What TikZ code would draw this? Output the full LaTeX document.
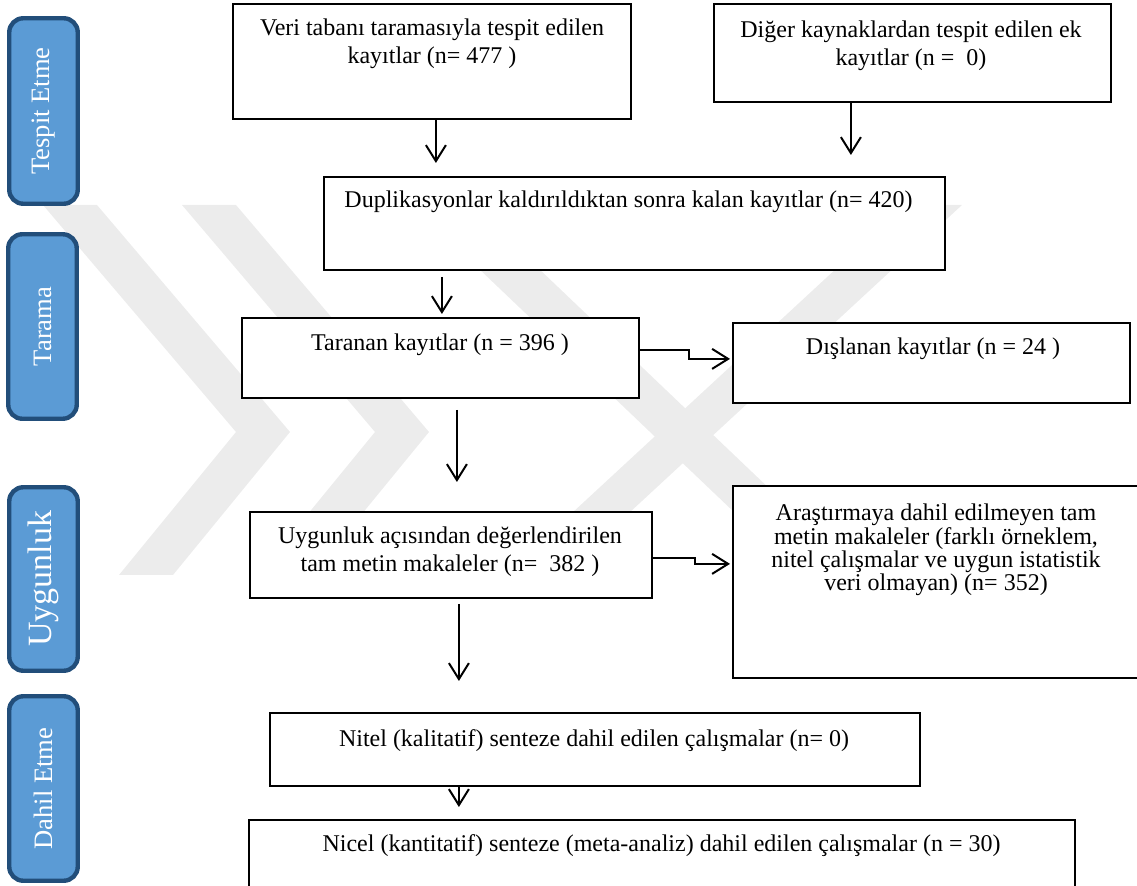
\documentclass[tikz,border=0pt]{standalone}
\usepackage{fontspec}
\setmainfont{Liberation Serif}
\usetikzlibrary{arrows.meta,calc}
\definecolor{sidefill}{RGB}{91,155,213}
\definecolor{sideedge}{RGB}{34,78,122}
\definecolor{wm}{RGB}{236,236,236}
\tikzset{
  box/.style={draw, line width=0.9pt, fill=white, inner sep=0pt, anchor=north west},
  txt/.style={inner sep=0pt, align=center, font=\fontsize{12}{14}\selectfont},
  side/.style={draw=sideedge, fill=sidefill, line width=2.2pt, rounded corners=7pt,
    text=white, inner sep=0pt, font=\fontsize{13.3}{16}\selectfont},
  arr/.style={line width=1pt, -{Straight Barb[length=8pt,width=10pt]}},
  band/.style={fill=wm, draw=none},
}
\begin{document}
\begin{tikzpicture}[x=0.5pt,y=-0.5pt]
\useasboundingbox (0,0) rectangle (1137,886);
% watermark
\fill[band] (43,205) -- (97,205) -- (290,432) -- (173,575) -- (119,575) -- (236,432) -- cycle;
\fill[band] (182,205) -- (236,205) -- (429,432) -- (312,575) -- (258,575) -- (375,432) -- cycle;
\fill[band] (905,205) -- (962,205) -- (562,575) -- (505,575) -- cycle;
\fill[band] (412,205) -- (472,205) -- (860,575) -- (800,575) -- cycle;
% side labels
\node[side, rotate=90, minimum width=92.75pt, minimum height=34.25pt] (s1) at (43.5,111) {Tespit Etme};
\node[side, rotate=90, minimum width=92.25pt, minimum height=34.25pt] (s2) at (42.5,326.5) {Tarama};
\node[side, rotate=90, minimum width=91.75pt, minimum height=34.25pt, font=\fontsize{17}{20}\selectfont] (s3) at (43.5,579) {Uygunluk};
\node[side, rotate=90, minimum width=92.25pt, minimum height=34.25pt] (s4) at (43.5,788.5) {Dahil Etme};
% boxes
\node[box, minimum width=199pt, minimum height=57.5pt] (veri) at (232,3) {};
\node[box, minimum width=198.5pt, minimum height=49pt] (diger) at (713,3) {};
\node[box, minimum width=310.5pt, minimum height=46.5pt] (dup) at (323,176) {};
\node[box, minimum width=198.5pt, minimum height=40pt] (taranan) at (241,317) {};
\node[box, minimum width=198.5pt, minimum height=40pt] (disl) at (732,322) {};
\node[box, minimum width=201pt, minimum height=43pt] (uygun) at (249,511) {};
\node[box, minimum width=210pt, minimum height=96pt] (arast) at (732,485) {};
\node[box, minimum width=325pt, minimum height=36.5pt] (nitel) at (269,712) {};
\node[box, minimum width=413pt, minimum height=42.5pt] (nicel) at (248,819) {};
% texts
\node[txt, anchor=north] (veriT) at (432,18.7) {Veri tabanı taramasıyla tespit edilen\\kayıtlar (n= 477 )};
\node[txt, anchor=north] (digerT) at (911,20.4) {Diğer kaynaklardan tespit edilen ek\\kayıtlar (n = \ 0)};
\node[txt, anchor=base] (dupT) at (628.5,208) {Duplikasyonlar kaldırıldıktan sonra kalan kayıtlar (n= 420)};
\node[txt, anchor=base] (tarananT) at (440,351) {Taranan kayıtlar (n = 396 )};
\node[txt, anchor=base] (dislT) at (933,355) {Dışlanan kayıtlar (n = 24 )};
\node[txt, anchor=north] (uygunT) at (450,526.7) {Uygunluk açısından değerlendirilen\\tam metin makaleler (n= \ 382 )};
\node[txt, anchor=north, font=\fontsize{12}{11.65}\selectfont] (arastT) at (936,503.7) {Araştırmaya dahil edilmeyen tam\\metin makaleler (farklı örneklem,\\nitel çalışmalar ve uygun istatistik\\veri olmayan) (n= 352)};
\node[txt, anchor=base] (nitelT) at (594,747) {Nitel (kalitatif) senteze dahil edilen çalışmalar (n= 0)};
\node[txt, anchor=base] (nicelT) at (661.5,852) {Nicel (kantitatif) senteze (meta-analiz) dahil edilen çalışmalar (n = 30)};
% arrows
\draw[arr, shorten >=6.5pt] ([xshift=2pt]veri.south) -- ([xshift=2pt]veri.south |- dup.north);
\draw[arr, shorten >=10.5pt] ([xshift=-30.75pt]diger.south) -- ([xshift=-30.75pt]diger.south |- dup.north);
\draw[arr, shorten <=3pt, shorten >=1.5pt] ([xshift=0.75pt]taranan.north |- dup.south) -- ([xshift=0.75pt]taranan.north);
\draw[arr, shorten <=5.5pt, shorten >=14.5pt] ([xshift=8.25pt]taranan.south) -- ([xshift=8.25pt]taranan.south |- uygun.north);
\draw[arr, shorten >=1pt] ([yshift=4pt]taranan.east) -- ++(49,0) |- ([yshift=2pt]disl.west);
\draw[arr, shorten >=1pt] ([yshift=-1.5pt]uygun.east) -- ++(42,0) |- ([yshift=9pt]arast.west);
\draw[arr, shorten <=2.5pt, shorten >=15.5pt] ([xshift=4pt]uygun.south) -- ([xshift=4pt]uygun.south |- nitel.north);
\draw[arr, shorten >=6pt] ([xshift=-68pt]nitel.south) -- ([xshift=-68pt]nitel.south |- nicel.north);
\end{tikzpicture}
\end{document}
